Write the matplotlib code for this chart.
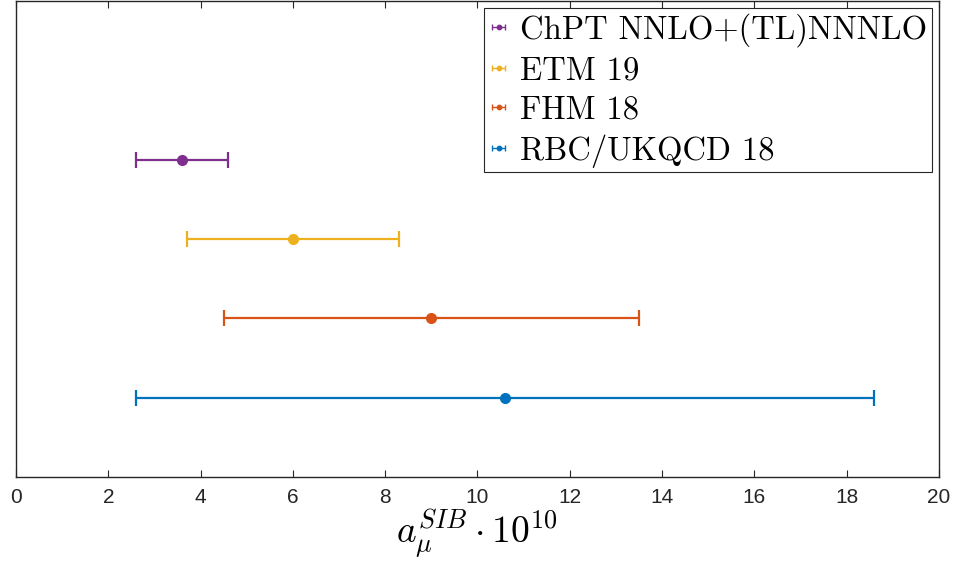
#!/usr/bin/env python3
"""Strong isospin breaking contribution a_mu^SIB, comparison of determinations."""

from matplotlib import pyplot as plt
from matplotlib.collections import LineCollection
from matplotlib.container import ErrorbarContainer
from matplotlib.legend_handler import HandlerErrorbar
from matplotlib.lines import Line2D

LABELS = ["ChPT NNLO+(TL)NNNLO", "ETM 19", "FHM 18", "RBC/UKQCD 18"]
VALUES = [3.6, 6.0, 9.0, 10.6]
ERRORS = [1.0, 2.3, 4.5, 8.0]
ROWS = [4, 3, 2, 1]
COLORS = ["#7E2F8E", "#EDB120", "#D95319", "#0072BD"]
XTICKS = list(range(0, 21, 2))


def main():
    plt.rcParams.update(
        {
            "mathtext.fontset": "cm",
            "axes.edgecolor": "#262626",
            "axes.linewidth": 1.0,
        }
    )

    fig = plt.figure(figsize=(9.57, 5.67), dpi=100)
    ax = fig.add_axes([0.0167, 0.1587, 0.9645, 0.8395])

    for label, value, err, row, color in zip(LABELS, VALUES, ERRORS, ROWS, COLORS):
        ax.errorbar(
            value, row, xerr=err, fmt="o", color=color, markersize=7,
            elinewidth=1.6, capsize=6, capthick=1.6, label=label,
        )

    ax.set_xlim(0, 20)
    ax.set_ylim(0, 6)
    ax.set_xticks(XTICKS)
    ax.set_yticks([])
    ax.tick_params(axis="x", direction="in", top=True, length=5, width=0.8,
                   color="#262626", pad=8)
    for tick in ax.get_xticklabels():
        tick.set_fontfamily("Liberation Sans")
        tick.set_fontsize(15)
        tick.set_color("#262626")

    ax.set_xlabel(r"$a_\mu^{SIB}\cdot 10^{10}$", fontsize=27, labelpad=0)

    leg = ax.legend(
        loc="upper right", bbox_to_anchor=(0.9925, 0.986), borderaxespad=0,
        fancybox=False, framealpha=1, edgecolor="#262626",
        handlelength=0.6, handletextpad=0.35, borderpad=0.15,
        labelspacing=0.3, markerscale=0.45,
        handler_map={ErrorbarContainer: HandlerErrorbar(xerr_size=0.2)},
        prop={"family": "cmr10", "size": 23.5},
    )
    leg.get_frame().set_linewidth(0.8)
    # thin out the legend glyphs, they are tiny in the original
    for line in leg.findobj(Line2D):
        line.set_linewidth(1.0)
        if line.get_marker() == "|":
            line.set_markersize(4)
            line.set_markeredgewidth(1.0)
    for coll in leg.findobj(LineCollection):
        coll.set_linewidth(1.0)

    fig.savefig("out.png", dpi=100)


if __name__ == "__main__":
    main()
